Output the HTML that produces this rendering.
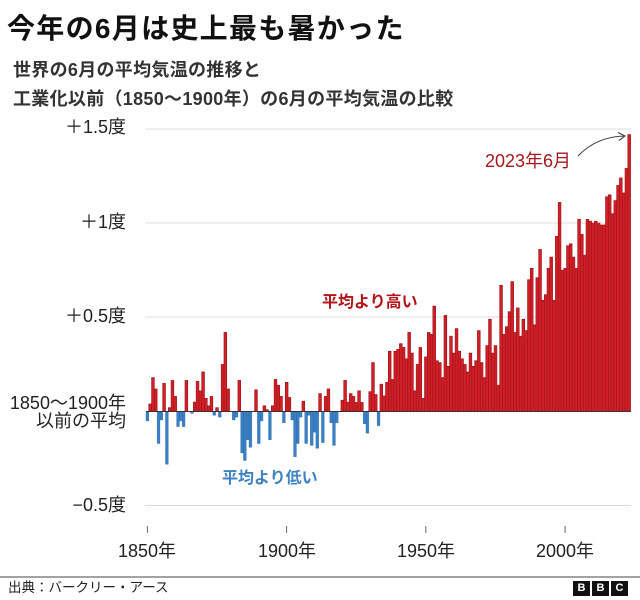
<!DOCTYPE html>
<html><head><meta charset="utf-8">
<style>
html,body{margin:0;padding:0;background:#fff;}
body{width:640px;height:600px;position:relative;overflow:hidden;font-family:"Liberation Sans","Noto Sans CJK JP",sans-serif;color:#222;}
.a{position:absolute;white-space:nowrap;}
.t{left:7px;top:13px;font-size:28px;line-height:32px;font-weight:bold;color:#111;letter-spacing:1.3px;}
.s{left:13px;font-size:18px;line-height:22px;font-weight:bold;color:#333;letter-spacing:0.3px;}
.y{left:0;width:126px;text-align:right;font-size:18px;line-height:22px;color:#222;}
.x{width:80px;text-align:center;font-size:18px;line-height:22px;color:#222;top:540px;}
.ft{left:8px;top:579px;font-size:13.5px;line-height:18px;color:#222;}
.bbc{position:absolute;top:581px;width:17px;height:15px;background:#111;color:#fff;font:bold 11px/15px "Liberation Sans",sans-serif;text-align:center;}
</style></head><body>
<div class="a t">今年の6月は史上最も暑かった</div>
<div class="a s" style="top:59px">世界の6月の平均気温の推移と</div>
<div class="a s" style="top:88px">工業化以前（1850〜1900年）の6月の平均気温の比較</div>

<div class="a y" style="top:116px">＋1.5度</div>
<div class="a y" style="top:211px">＋1度</div>
<div class="a y" style="top:305px">＋0.5度</div>
<div class="a y" style="top:392px">1850〜1900年</div>
<div class="a y" style="top:410px">以前の平均</div>
<div class="a y" style="top:494px">−0.5度</div>

<svg class="a" style="left:0;top:0" width="640" height="600" viewBox="0 0 640 600">
<g stroke="#dcdcdc" stroke-width="1">
<line x1="145" y1="129" x2="631" y2="129"/>
<line x1="145" y1="223" x2="631" y2="223"/>
<line x1="145" y1="317" x2="631" y2="317"/>
<line x1="145" y1="505.5" x2="631" y2="505.5"/>
</g>
<g transform="translate(146,411.5) scale(2.785,-188.4)">
<path fill="#cf2027" stroke="#9c1117" stroke-width="0.6" vector-effect="non-scaling-stroke" d="
M1 0h1v.04h-1z M2 0h1v.18h-1z M3 0h1v.12h-1z M6 0h1v.15h-1z M8 0h1v.02h-1z M9 0h1v.165h-1z
M10 0h1v.08h-1z M14 0h1v.165h-1z M17 0h1v.05h-1z M18 0h1v.16h-1z M19 0h1v.11h-1z M20 0h1v.21h-1z
M21 0h1v.07h-1z M22 0h1v.03h-1z M23 0h1v.08h-1z M25 0h1v.02h-1z M27 0h1v.25h-1z M28 0h1v.42h-1z
M29 0h1v.12h-1z M33 0h1v.165h-1z M39 0h1v.115h-1z M42 0h1v.03h-1z M43 0h1v.01h-1z M45 0h1v.03h-1z
M46 0h1v.17h-1z M47 0h1v.14h-1z M48 0h1v.08h-1z M50 0h1v.155h-1z M51 0h1v.075h-1z M56 0h1v.055h-1z
M62 0h1v.095h-1z M64 0h1v.08h-1z M65 0h1v.12h-1z M70 0h1v.06h-1z M71 0h1v.165h-1z M72 0h1v.05h-1z
M73 0h1v.095h-1z M74 0h1v.08h-1z M75 0h1v.048h-1z M76 0h1v.11h-1z M77 0h1v.048h-1z M80 0h1v.105h-1z
M81 0h1v.26h-1z M82 0h1v.09h-1z M84 0h1v.145h-1z M85 0h1v.083h-1z M86 0h1v.155h-1z M87 0h1v.32h-1z
M88 0h1v.17h-1z M89 0h1v.32h-1z M90 0h1v.33h-1z M91 0h1v.36h-1z M92 0h1v.34h-1z M93 0h1v.28h-1z
M94 0h1v.42h-1z M95 0h1v.31h-1z M96 0h1v.11h-1z M97 0h1v.25h-1z M98 0h1v.34h-1z M99 0h1v.07h-1z
M100 0h1v.29h-1z M101 0h1v.42h-1z M102 0h1v.41h-1z M103 0h1v.56h-1z M104 0h1v.27h-1z M105 0h1v.26h-1z
M106 0h1v.18h-1z M107 0h1v.51h-1z M108 0h1v.24h-1z M109 0h1v.4h-1z M110 0h1v.31h-1z M111 0h1v.44h-1z
M112 0h1v.32h-1z M113 0h1v.28h-1z M114 0h1v.25h-1z M115 0h1v.21h-1z M116 0h1v.31h-1z M117 0h1v.24h-1z
M118 0h1v.27h-1z M119 0h1v.43h-1z M120 0h1v.26h-1z M121 0h1v.18h-1z M122 0h1v.35h-1z M123 0h1v.49h-1z
M124 0h1v.31h-1z M125 0h1v.35h-1z M126 0h1v.14h-1z M127 0h1v.67h-1z M128 0h1v.41h-1z M129 0h1v.45h-1z
M130 0h1v.53h-1z M131 0h1v.69h-1z M132 0h1v.42h-1z M133 0h1v.55h-1z M134 0h1v.4h-1z M135 0h1v.49h-1z
M136 0h1v.43h-1z M137 0h1v.7h-1z M138 0h1v.76h-1z M139 0h1v.46h-1z M140 0h1v.71h-1z M141 0h1v.86h-1z
M142 0h1v.59h-1z M143 0h1v.62h-1z M144 0h1v.76h-1z M145 0h1v.82h-1z M146 0h1v.59h-1z M147 0h1v.93h-1z
M148 0h1v1.11h-1z M149 0h1v.75h-1z M150 0h1v.76h-1z M151 0h1v.88h-1z M152 0h1v.89h-1z M153 0h1v.82h-1z
M154 0h1v.76h-1z M155 0h1v1.02h-1z M156 0h1v.94h-1z M157 0h1v.83h-1z M158 0h1v1.02h-1z M159 0h1v1.01h-1z
M160 0h1v1h-1z M161 0h1v1.01h-1z M162 0h1v1h-1z M163 0h1v.99h-1z M164 0h1v.99h-1z M165 0h1v1.14h-1z
M166 0h1v1.15h-1z M167 0h1v1.05h-1z M168 0h1v1.12h-1z M169 0h1v1.2h-1z M170 0h1v1.24h-1z M171 0h1v1.16h-1z
M172 0h1v1.29h-1z M173 0h1v1.47h-1z"/>
<path fill="#3b80c4" stroke="#2f6cab" stroke-width="0.4" vector-effect="non-scaling-stroke" d="
M0 0h1v-.05h-1z M4 0h1v-.17h-1z M5 0h1v-.045h-1z M7 0h1v-.28h-1z M11 0h1v-.08h-1z M12 0h1v-.05h-1z
M13 0h1v-.08h-1z M16 0h1v-.01h-1z M24 0h1v-.02h-1z M26 0h1v-.03h-1z M31 0h1v-.045h-1z M32 0h1v-.03h-1z
M34 0h1v-.22h-1z M35 0h1v-.26h-1z M36 0h1v-.15h-1z M37 0h1v-.19h-1z M40 0h1v-.17h-1z M41 0h1v-.05h-1z
M44 0h1v-.15h-1z M49 0h1v-.06h-1z M52 0h1v-.045h-1z M53 0h1v-.24h-1z M54 0h1v-.17h-1z M55 0h1v-.03h-1z
M57 0h1v-.17h-1z M58 0h1v-.02h-1z M59 0h1v-.18h-1z M60 0h1v-.11h-1z M61 0h1v-.195h-1z M63 0h1v-.165h-1z
M66 0h1v-.06h-1z M67 0h1v-.18h-1z M68 0h1v-.06h-1z M78 0h1v-.065h-1z M79 0h1v-.115h-1z M83 0h1v-.075h-1z"/>
</g>
<line x1="146" y1="411.5" x2="631" y2="411.5" stroke="#333" stroke-width="1"/>
<g stroke="#666" stroke-width="1">
<line x1="147.4" y1="526" x2="147.4" y2="533"/>
<line x1="286.6" y1="526" x2="286.6" y2="533"/>
<line x1="425.8" y1="526" x2="425.8" y2="533"/>
<line x1="565.1" y1="526" x2="565.1" y2="533"/>
</g>
<path d="M578,156 Q596,137 624,136" fill="none" stroke="#444" stroke-width="1.1"/>
<path d="M618,132.5 L625,136 L619,140.5" fill="none" stroke="#444" stroke-width="1.1"/>
<line x1="0" y1="577" x2="640" y2="577" stroke="#444" stroke-width="1"/>
</svg>

<div class="a" style="left:485px;top:150px;font-size:18px;line-height:22px;color:#a41920;">2023年6月</div>
<div class="a" style="left:322px;top:292px;font-size:16px;line-height:22px;font-weight:bold;color:#b3151b;">平均より高い</div>
<div class="a" style="left:222px;top:468px;font-size:16px;line-height:22px;font-weight:bold;color:#3f83c3;">平均より低い</div>

<div class="a x" style="left:107px">1850年</div>
<div class="a x" style="left:247px">1900年</div>
<div class="a x" style="left:386px">1950年</div>
<div class="a x" style="left:525px">2000年</div>

<div class="a ft">出典：バークリー・アース</div>
<div class="bbc" style="left:573px">B</div>
<div class="bbc" style="left:592px">B</div>
<div class="bbc" style="left:611px">C</div>
</body></html>
